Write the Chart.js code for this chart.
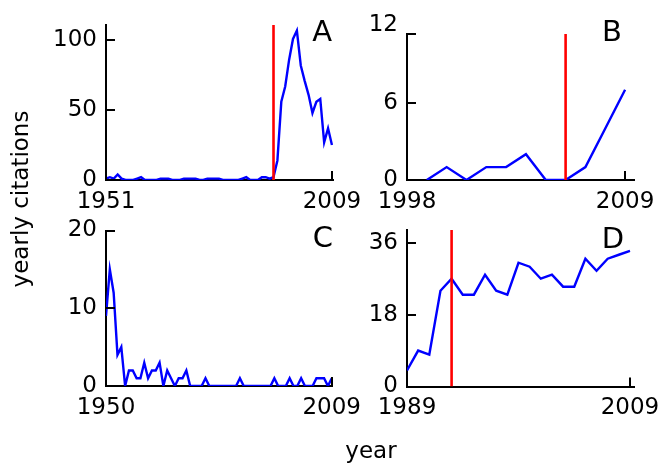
<!DOCTYPE html>
<html>
<head>
<meta charset="utf-8">
<script src="https://cdn.jsdelivr.net/npm/chart.js@4.4.1/dist/chart.umd.min.js"></script>
<style>
  html, body { margin: 0; padding: 0; background: #fff; }
  #wrap { position: relative; width: 661px; height: 464px; }
  canvas { position: absolute; left: 0; top: 0; }
</style>
</head>
<body>
<div id="wrap">
  <canvas id="cA" width="661" height="464"></canvas>
  <canvas id="cB" width="661" height="464"></canvas>
  <canvas id="cC" width="661" height="464"></canvas>
  <canvas id="cD" width="661" height="464"></canvas>
</div>
<script>
// --- data ---
const yearsA = [1951,1952,1953,1954,1955,1956,1957,1958,1959,1960,
  1961,1962,1963,1964,1965,1966,1967,1968,1969,1970,
  1971,1972,1973,1974,1975,1976,1977,1978,1979,1980,
  1981,1982,1983,1984,1985,1986,1987,1988,1989,1990,
  1991,1992,1993,1994,1995,1996,1997,1998,1999,2000,
  2001,2002,2003,2004,2005,2006,2007,2008,2009];
const citesA = [1,2,1,4,1,0,0,0,1,2,
  0,0,0,0,1,1,1,0,0,0,
  1,1,1,1,0,0,1,1,1,1,
  0,0,0,0,0,1,2,0,0,0,
  2,2,1,2,14,56,67,86,101,107,
  82,71,61,48,56,58,27,37,25];
const yearsB = [1999,2000,2001,2002,2003,2004,2005,2006,2007,2008,2009];
const citesB = [0,1,0,1,1,2,0,0,1,4,7];
const yearsC = [1950,1951,1952,1953,1954,1955,1956,1957,1958,1959,
  1960,1961,1962,1963,1964,1965,1966,1967,1968,1969,
  1970,1971,1972,1973,1974,1975,1976,1977,1978,1979,
  1980,1981,1982,1983,1984,1985,1986,1987,1988,1989,
  1990,1991,1992,1993,1994,1995,1996,1997,1998,1999,
  2000,2001,2002,2003,2004,2005,2006,2007,2008,2009];
const citesC = [9,15,12,4,5,0,2,2,1,1,
  3,1,2,2,3,0,2,1,0,1,
  1,2,0,0,0,0,1,0,0,0,
  0,0,0,0,0,1,0,0,0,0,
  0,0,0,0,1,0,0,0,1,0,
  0,1,0,0,0,1,1,1,0,1];
const yearsD = [1989,1990,1991,1992,1993,1994,1995,1996,1997,1998,
  1999,2000,2001,2002,2003,2004,2005,2006,2007,2008,2009];
const citesD = [4,9,8,24,27,23,23,28,24,23,
  31,30,27,28,25,25,32,29,32,33,34];

// publication year (red marker)
const markA = 1994, markB = 2006, markD = 1993;

// tick values
const xTicksA = [1951, 2009], yTicksA = [0, 50, 100];
const xTicksB = [1998, 2009], yTicksB = [0, 6, 12];
const xTicksC = [1950, 2009], yTicksC = [0, 10, 20];
const xTicksD = [1989, 2009], yTicksD = [0, 18, 36];

// --- helpers ---
const FONT = '"DejaVu Sans", sans-serif';
const AXW = 90, AXH = 50;   // fixed room for tick labels

const panelDeco = {
  id: 'panelDeco',
  afterDraw(chart, args, o) {
    const ctx = chart.ctx, xs = chart.scales.x, ys = chart.scales.y, a = chart.chartArea;
    ctx.save();
    ctx.strokeStyle = '#000';
    ctx.lineWidth = 2;
    ctx.beginPath();
    o.xTicks.forEach(v => {
      const px = Math.round(xs.getPixelForValue(v));
      ctx.moveTo(px, a.bottom); ctx.lineTo(px, a.bottom - 9);
    });
    o.yTicks.forEach(v => {
      const py = Math.round(ys.getPixelForValue(Math.min(v, ys.max)));
      ctx.moveTo(a.left, py); ctx.lineTo(a.left + 9, py);
    });
    ctx.stroke();
    ctx.fillStyle = '#000';
    ctx.font = '29px ' + FONT;
    ctx.textAlign = 'right';
    ctx.textBaseline = 'alphabetic';
    ctx.fillText(o.letter, o.letterAt[0], o.letterAt[1]);
    if (o.titles) {
      ctx.font = '23px ' + FONT;
      ctx.textAlign = 'center';
      ctx.textBaseline = 'middle';
      ctx.fillText('year', 371, 452);
      ctx.translate(22, 199);
      ctx.rotate(-Math.PI / 2);
      ctx.fillText('yearly citations', 0, 0);
    }
    ctx.restore();
  }
};

function makePanel(id, p) {
  const pts = p.years.map((yr, i) => ({x: yr, y: p.cites[i]}));
  const datasets = [];
  if (p.mark != null) {
    datasets.push({data: [{x: p.mark, y: 0}, {x: p.mark, y: p.ymax}],
      borderColor: '#ff0000', borderWidth: 2.6, pointRadius: 0});
  }
  datasets.push({data: pts, borderColor: '#0000ff', borderWidth: 2.4, pointRadius: 0, tension: 0});
  const tickFont = {family: FONT, size: 23};
  return new Chart(document.getElementById(id), {
    type: 'line',
    data: {datasets},
    options: {
      responsive: false, animation: false, events: [],
      layout: {padding: {left: p.box[0] - AXW, top: p.box[1], right: 661 - p.box[2], bottom: 464 - p.box[3] - AXH}},
      plugins: {legend: {display: false}, tooltip: {enabled: false},
        panelDeco: {xTicks: p.xTicks, yTicks: p.yTicks, letter: p.letter, letterAt: p.letterAt, titles: p.titles}},
      scales: {
        x: {type: 'linear', min: p.xmin, max: p.xmax, z: 1,
          afterBuildTicks: s => { s.ticks = p.xTicks.map(v => ({value: v})); },
          afterFit: s => { s.height = AXH; s.paddingLeft = 0; s.paddingRight = 0; },
          grid: {display: false, drawTicks: false},
          border: {display: true, color: '#000', width: 2},
          ticks: {font: tickFont, color: '#000', padding: 8, maxRotation: 0, autoSkip: false, callback: v => String(v)}},
        y: {type: 'linear', min: 0, max: p.ymax, z: 1,
          afterBuildTicks: s => { s.ticks = p.yTicks.map(v => ({value: v})); },
          afterFit: s => { s.width = AXW; s.paddingTop = 0; s.paddingBottom = 0; },
          grid: {display: false, drawTicks: false},
          border: {display: true, color: '#000', width: 2},
          ticks: {font: tickFont, color: '#000', padding: 9, autoSkip: false, callback: v => String(v)}}
      }
    },
    plugins: [panelDeco]
  });
}

makePanel('cA', {years: yearsA, cites: citesA, mark: markA, xmin: 1951, xmax: 2009.4, ymax: 111,
  xTicks: xTicksA, yTicks: yTicksA, box: [106, 25, 333.5, 180], letter: 'A', letterAt: [332, 41], titles: true});
makePanel('cB', {years: yearsB, cites: citesB, mark: markB, xmin: 1998, xmax: 2009.45, ymax: 11.33,
  xTicks: xTicksB, yTicks: yTicksB, box: [407, 34, 634, 180], letter: 'B', letterAt: [622, 41]});
makePanel('cC', {years: yearsC, cites: citesC, mark: null, xmin: 1950, xmax: 2009.2, ymax: 20,
  xTicks: xTicksC, yTicks: yTicksC, box: [106, 230.5, 332.5, 386], letter: 'C', letterAt: [333, 247]});
makePanel('cD', {years: yearsD, cites: citesD, mark: markD, xmin: 1989, xmax: 2009.36, ymax: 39.2,
  xTicks: xTicksD, yTicks: yTicksD, box: [407, 230, 634, 386.5], letter: 'D', letterAt: [624, 248]});
</script>
</body>
</html>
